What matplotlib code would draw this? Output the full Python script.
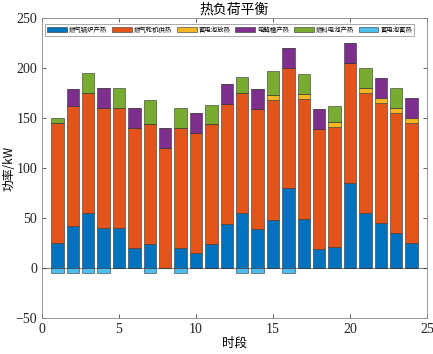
import numpy as np
import matplotlib.pyplot as plt

plt.rcParams['font.family'] = ['Liberation Serif', 'Noto Sans CJK SC']

# data
hours = np.arange(1, 25)
boiler = [25, 42, 55, 40, 40, 20, 24, 0, 20, 15, 24, 44,
          55, 39, 48, 80, 49, 19, 21, 85, 55, 45, 35, 25]
turbine = [120] * 24
bat_out = [0, 0, 0, 0, 0, 0, 0, 0, 0, 0, 0, 0,
           0, 0, 5, 0, 5, 0, 5, 0, 5, 5, 5, 5]
electro = [0, 17, 0, 20, 0, 20, 0, 20, 0, 20, 0, 20,
           0, 20, 0, 20, 0, 20, 0, 20, 0, 20, 0, 20]
fuelcell = [5, 0, 20, 0, 20, 0, 24, 0, 20, 0, 19, 0,
            16, 0, 24, 0, 20, 0, 16, 0, 20, 0, 20, 0]
bat_in = [-5, -5, -5, -5, 0, 0, -5, 0, -5, 0, 0, 0,
          -5, -5, 0, -5, 0, 0, 0, 0, 0, 0, 0, 0]

labels = ['燃气锅炉产热', '燃气轮机供热', '蓄电池放热', '电解槽产热', '燃料电池产热', '蓄电池蓄热']
colors = ['#0072BD', '#E3541A', '#F5B623', '#7E2F8E', '#77AC30', '#4DBEEE']

fig = plt.figure(figsize=(4.33, 3.54), dpi=100)
ax = fig.add_axes([0.097, 0.102, 0.889, 0.847])

series = [boiler, turbine, bat_out, electro, fuelcell]
bottom = np.zeros(24)
for vals, lab, c in zip(series, labels[:5], colors[:5]):
    vals = np.array(vals, dtype=float)
    ax.bar(hours, vals, 0.8, bottom=bottom, color=c, edgecolor='#333333',
           linewidth=0.4, label=lab)
    bottom += vals
ax.bar(hours, bat_in, 0.8, color=colors[5], edgecolor='#333333',
       linewidth=0.4, label=labels[5])
ax.axhline(0, color='#888888', lw=0.8, zorder=0.5)

ax.set_xlim(0, 25)
ax.set_ylim(-50, 250)
ax.set_xticks(range(0, 26, 5))
ax.set_yticks(range(-50, 251, 50))
ax.tick_params(direction='in', top=True, right=True, labelsize=10,
               colors='#222222', length=3, width=0.5)
for s in ax.spines.values():
    s.set_color('#888888')
    s.set_linewidth(0.6)

ax.set_title('热负荷平衡', fontsize=10, family='Noto Sans CJK SC', pad=3)
ax.set_xlabel('时段', fontsize=9, family='Noto Sans CJK SC', labelpad=1)
ax.set_ylabel('功率/kW', fontsize=8.5, family=['Noto Sans CJK SC'], labelpad=0)

leg = ax.legend(ncol=6, loc='upper left', bbox_to_anchor=(0.005, 0.985),
                prop={'family': 'Noto Sans CJK SC', 'size': 4.6},
                handlelength=3.1, handleheight=0.8, columnspacing=0.75,
                handletextpad=0.3, borderpad=0.35, borderaxespad=0.2,
                fancybox=False, edgecolor='#888888', framealpha=1)
leg.get_frame().set_linewidth(0.5)

fig.savefig('out.png', dpi=100)
